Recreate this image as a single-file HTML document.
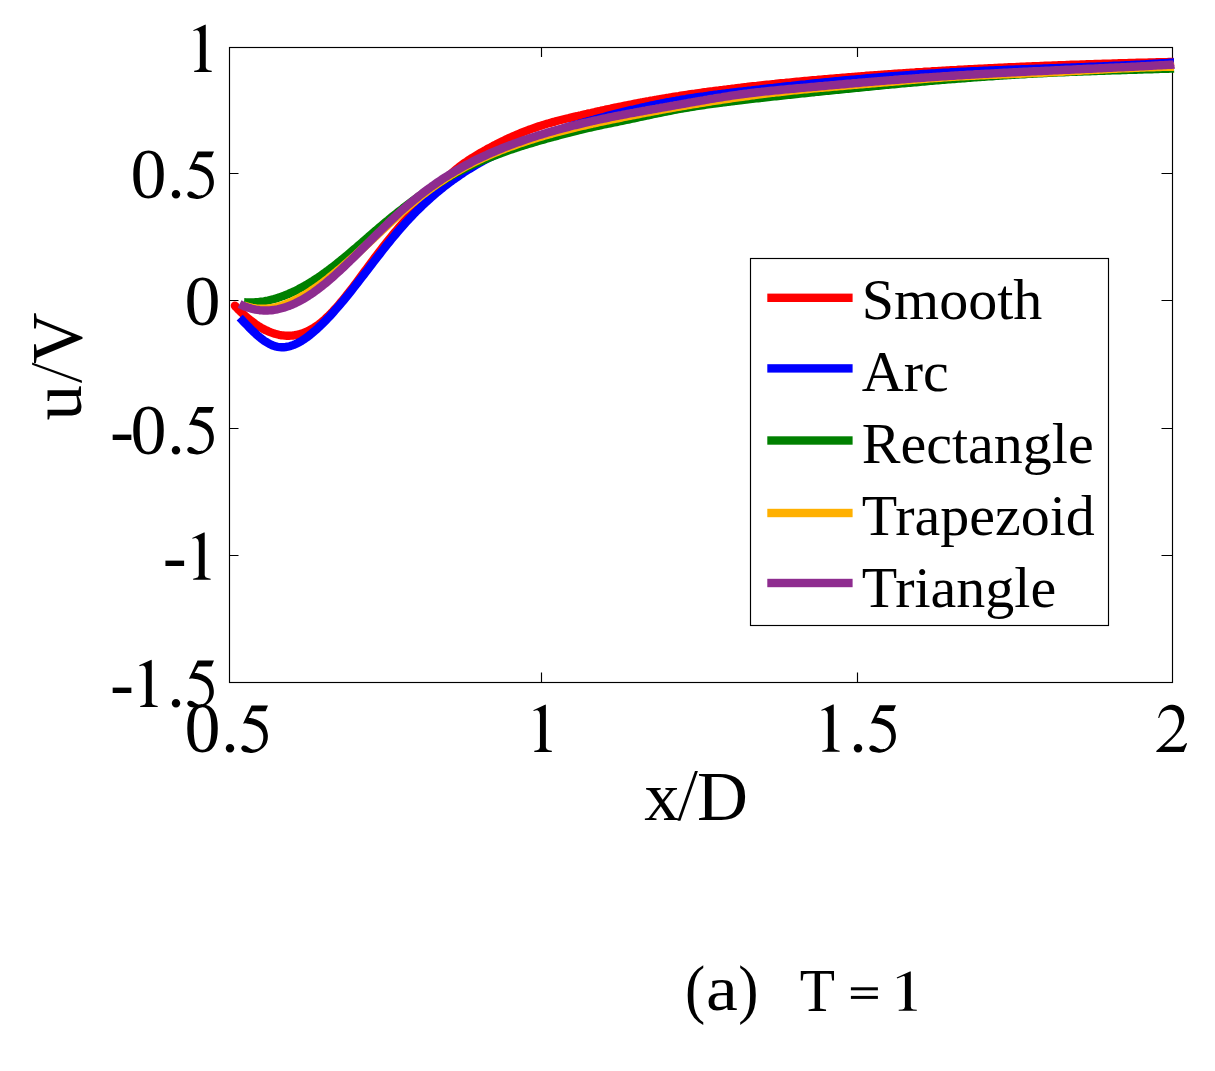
<!DOCTYPE html>
<html><head><meta charset="utf-8"><style>
html,body{margin:0;padding:0;background:#fff;}
body{width:1215px;height:1071px;overflow:hidden;font-family:"Liberation Serif",serif;}
svg{display:block;}
</style></head><body>
<svg width="1215" height="1071" viewBox="0 0 1215 1071">
<rect width="1215" height="1071" fill="#fff"/>
<g stroke="#000" stroke-width="1.15" fill="none">
<rect x="229.5" y="47.5" width="943" height="635"/>
<path d="M541.5 682.5 V672.5 M541.5 47.5 V57"/>
<path d="M857.5 682.5 V672.5 M857.5 47.5 V57"/>
<path d="M229.5 173.5 H238.5 M1172.5 173.5 H1161.5"/>
<path d="M229.5 300.5 H238.5 M1172.5 300.5 H1161.5"/>
<path d="M229.5 428.5 H238.5 M1172.5 428.5 H1161.5"/>
<path d="M229.5 555.5 H238.5 M1172.5 555.5 H1161.5"/>
</g>
<path d="M234.9 305.8 L236.9 307.9 L238.9 310.0 L240.9 311.9 L242.9 313.8 L244.9 315.7 L246.9 317.4 L248.9 319.1 L250.9 320.7 L252.9 322.2 L254.9 323.7 L256.9 325.1 L258.9 326.4 L260.9 327.6 L262.9 328.7 L264.9 329.8 L266.9 330.7 L268.9 331.6 L270.9 332.4 L272.9 333.1 L274.9 333.8 L276.9 334.3 L278.9 334.8 L280.9 335.2 L282.9 335.4 L284.9 335.6 L286.9 335.7 L288.9 335.7 L290.9 335.6 L292.9 335.5 L294.9 335.2 L296.9 334.8 L298.9 334.4 L300.9 333.8 L302.9 333.2 L304.9 332.4 L306.9 331.5 L308.9 330.6 L310.9 329.5 L312.9 328.4 L314.9 327.1 L316.9 325.8 L318.9 324.3 L320.9 322.7 L322.9 321.1 L324.9 319.3 L326.9 317.4 L328.9 315.5 L330.9 313.5 L332.9 311.4 L334.9 309.2 L336.9 307.0 L338.9 304.7 L340.9 302.3 L342.9 299.9 L344.9 297.5 L346.9 294.9 L348.9 292.4 L350.9 289.8 L352.9 287.2 L354.9 284.6 L356.9 281.9 L358.9 279.2 L360.9 276.5 L362.9 273.8 L364.9 271.1 L366.9 268.4 L368.9 265.6 L370.9 262.9 L372.9 260.3 L374.9 257.6 L376.9 254.9 L378.9 252.3 L380.9 249.7 L382.9 247.1 L384.9 244.6 L386.9 242.0 L388.9 239.5 L390.9 237.1 L392.9 234.6 L394.9 232.2 L396.9 229.9 L398.9 227.6 L400.9 225.3 L402.9 223.0 L404.9 220.8 L406.9 218.6 L408.9 216.4 L410.9 214.3 L412.9 212.2 L414.9 210.1 L416.9 208.0 L418.9 205.9 L420.9 203.8 L422.9 201.7 L424.9 199.6 L426.9 197.5 L428.9 195.4 L430.9 193.4 L432.9 191.3 L434.9 189.3 L436.9 187.3 L438.9 185.3 L440.9 183.3 L442.9 181.4 L444.9 179.5 L446.9 177.6 L448.9 175.8 L450.9 174.0 L452.9 172.2 L454.9 170.5 L456.9 168.8 L458.9 167.2 L460.9 165.7 L462.9 164.2 L464.9 162.7 L466.9 161.4 L468.9 160.0 L470.9 158.7 L472.9 157.5 L474.9 156.3 L476.9 155.1 L478.9 153.9 L480.9 152.7 L482.9 151.6 L484.9 150.5 L486.9 149.3 L488.9 148.2 L490.9 147.2 L492.9 146.1 L494.9 145.1 L496.9 144.0 L498.9 143.0 L500.9 142.0 L502.9 141.0 L504.9 140.1 L506.9 139.1 L508.9 138.2 L510.9 137.3 L512.9 136.4 L514.9 135.5 L516.9 134.6 L518.9 133.8 L520.9 133.0 L522.9 132.2 L524.9 131.4 L526.9 130.6 L528.9 129.8 L530.9 129.1 L532.9 128.4 L534.9 127.7 L536.9 127.0 L538.9 126.3 L540.9 125.7 L542.9 125.1 L544.9 124.4 L546.9 123.8 L548.9 123.3 L550.9 122.7 L552.9 122.1 L554.9 121.6 L556.9 121.0 L558.9 120.5 L560.9 120.0 L562.9 119.5 L564.9 119.0 L566.9 118.5 L568.9 118.1 L570.9 117.6 L572.9 117.1 L574.9 116.6 L576.9 116.2 L578.9 115.7 L580.9 115.3 L582.9 114.8 L584.9 114.3 L586.9 113.9 L588.9 113.4 L590.9 113.0 L592.9 112.5 L594.9 112.1 L596.9 111.6 L598.9 111.2 L600.9 110.7 L602.9 110.3 L604.9 109.9 L606.9 109.4 L608.9 109.0 L610.9 108.6 L612.9 108.1 L614.9 107.7 L616.9 107.3 L618.9 106.9 L620.9 106.5 L622.9 106.1 L624.9 105.7 L626.9 105.3 L628.9 104.9 L630.9 104.5 L632.9 104.1 L634.9 103.7 L636.9 103.3 L638.9 102.9 L640.9 102.5 L642.9 102.2 L644.9 101.8 L646.9 101.4 L648.9 101.1 L650.9 100.7 L652.9 100.4 L654.9 100.0 L656.9 99.7 L658.9 99.3 L660.9 99.0 L662.9 98.6 L664.9 98.3 L666.9 98.0 L668.9 97.7 L670.9 97.3 L672.9 97.0 L674.9 96.7 L676.9 96.4 L678.9 96.1 L680.9 95.7 L682.9 95.4 L684.9 95.1 L686.9 94.8 L688.9 94.5 L690.9 94.2 L692.9 93.9 L694.9 93.7 L696.9 93.4 L698.9 93.1 L700.9 92.8 L702.9 92.5 L704.9 92.2 L706.9 92.0 L708.9 91.7 L710.9 91.4 L712.9 91.2 L714.9 90.9 L716.9 90.6 L718.9 90.4 L720.9 90.1 L722.9 89.9 L724.9 89.6 L726.9 89.4 L728.9 89.1 L730.9 88.9 L732.9 88.6 L734.9 88.4 L736.9 88.1 L738.9 87.9 L740.9 87.7 L742.9 87.4 L744.9 87.2 L746.9 87.0 L748.9 86.7 L750.9 86.5 L752.9 86.3 L754.9 86.1 L756.9 85.9 L758.9 85.6 L760.9 85.4 L762.9 85.2 L764.9 85.0 L766.9 84.8 L768.9 84.6 L770.9 84.4 L772.9 84.2 L774.9 84.0 L776.9 83.7 L778.9 83.5 L780.9 83.3 L782.9 83.1 L784.9 83.0 L786.9 82.8 L788.9 82.6 L790.9 82.4 L792.9 82.2 L794.9 82.0 L796.9 81.8 L798.9 81.6 L800.9 81.4 L802.9 81.2 L804.9 81.0 L806.9 80.9 L808.9 80.7 L810.9 80.5 L812.9 80.3 L814.9 80.1 L816.9 80.0 L818.9 79.8 L820.9 79.6 L822.9 79.4 L824.9 79.2 L826.9 79.1 L828.9 78.9 L830.9 78.7 L832.9 78.6 L834.9 78.4 L836.9 78.2 L838.9 78.1 L840.9 77.9 L842.9 77.7 L844.9 77.6 L846.9 77.4 L848.9 77.2 L850.9 77.1 L852.9 76.9 L854.9 76.8 L856.9 76.6 L858.9 76.4 L860.9 76.3 L862.9 76.1 L864.9 76.0 L866.9 75.8 L868.9 75.7 L870.9 75.5 L872.9 75.4 L874.9 75.2 L876.9 75.1 L878.9 74.9 L880.9 74.8 L882.9 74.6 L884.9 74.5 L886.9 74.4 L888.9 74.2 L890.9 74.1 L892.9 73.9 L894.9 73.8 L896.9 73.7 L898.9 73.5 L900.9 73.4 L902.9 73.3 L904.9 73.1 L906.9 73.0 L908.9 72.9 L910.9 72.7 L912.9 72.6 L914.9 72.5 L916.9 72.3 L918.9 72.2 L920.9 72.1 L922.9 72.0 L924.9 71.8 L926.9 71.7 L928.9 71.6 L930.9 71.5 L932.9 71.3 L934.9 71.2 L936.9 71.1 L938.9 71.0 L940.9 70.9 L942.9 70.7 L944.9 70.6 L946.9 70.5 L948.9 70.4 L950.9 70.3 L952.9 70.2 L954.9 70.1 L956.9 70.0 L958.9 69.8 L960.9 69.7 L962.9 69.6 L964.9 69.5 L966.9 69.4 L968.9 69.3 L970.9 69.2 L972.9 69.1 L974.9 69.0 L976.9 68.9 L978.9 68.8 L980.9 68.7 L982.9 68.6 L984.9 68.5 L986.9 68.4 L988.9 68.3 L990.9 68.2 L992.9 68.1 L994.9 68.0 L996.9 67.9 L998.9 67.8 L1000.9 67.7 L1002.9 67.6 L1004.9 67.5 L1006.9 67.4 L1008.9 67.3 L1010.9 67.2 L1012.9 67.2 L1014.9 67.1 L1016.9 67.0 L1018.9 66.9 L1020.9 66.8 L1022.9 66.7 L1024.9 66.6 L1026.9 66.5 L1028.9 66.5 L1030.9 66.4 L1032.9 66.3 L1034.9 66.2 L1036.9 66.1 L1038.9 66.1 L1040.9 66.0 L1042.9 65.9 L1044.9 65.8 L1046.9 65.7 L1048.9 65.7 L1050.9 65.6 L1052.9 65.5 L1054.9 65.4 L1056.9 65.4 L1058.9 65.3 L1060.9 65.2 L1062.9 65.1 L1064.9 65.1 L1066.9 65.0 L1068.9 64.9 L1070.9 64.8 L1072.9 64.8 L1074.9 64.7 L1076.9 64.6 L1078.9 64.6 L1080.9 64.5 L1082.9 64.4 L1084.9 64.4 L1086.9 64.3 L1088.9 64.2 L1090.9 64.2 L1092.9 64.1 L1094.9 64.0 L1096.9 64.0 L1098.9 63.9 L1100.9 63.9 L1102.9 63.8 L1104.9 63.7 L1106.9 63.7 L1108.9 63.6 L1110.9 63.6 L1112.9 63.5 L1114.9 63.4 L1116.9 63.4 L1118.9 63.3 L1120.9 63.3 L1122.9 63.2 L1124.9 63.2 L1126.9 63.1 L1128.9 63.0 L1130.9 63.0 L1132.9 62.9 L1134.9 62.9 L1136.9 62.8 L1138.9 62.8 L1140.9 62.7 L1142.9 62.7 L1144.9 62.6 L1146.9 62.6 L1148.9 62.5 L1150.9 62.5 L1152.9 62.4 L1154.9 62.4 L1156.9 62.3 L1158.9 62.3 L1160.9 62.2 L1162.9 62.2 L1164.9 62.1 L1166.9 62.1 L1168.9 62.0 L1170.9 62.0 L1172.9 62.0 L1174.0 61.9" fill="none" stroke="#ff0000" stroke-width="8.4" stroke-linejoin="round" stroke-linecap="butt"/>
<circle cx="234.9" cy="305.8" r="4.2" fill="#ff0000"/>
<path d="M239.7 317.6 L241.7 319.7 L243.7 321.8 L245.7 323.9 L247.7 325.9 L249.7 328.0 L251.7 330.0 L253.7 331.9 L255.7 333.8 L257.7 335.6 L259.7 337.3 L261.7 338.9 L263.7 340.4 L265.7 341.7 L267.7 342.9 L269.7 344.0 L271.7 345.0 L273.7 345.8 L275.7 346.4 L277.7 346.8 L279.7 347.1 L281.7 347.3 L283.7 347.2 L285.7 347.0 L287.7 346.7 L289.7 346.2 L291.7 345.6 L293.7 344.9 L295.7 344.0 L297.7 343.0 L299.7 342.0 L301.7 340.8 L303.7 339.5 L305.7 338.1 L307.7 336.7 L309.7 335.1 L311.7 333.5 L313.7 331.8 L315.7 330.1 L317.7 328.3 L319.7 326.4 L321.7 324.5 L323.7 322.5 L325.7 320.5 L327.7 318.4 L329.7 316.3 L331.7 314.1 L333.7 311.9 L335.7 309.6 L337.7 307.3 L339.7 305.0 L341.7 302.6 L343.7 300.2 L345.7 297.8 L347.7 295.3 L349.7 292.8 L351.7 290.3 L353.7 287.7 L355.7 285.2 L357.7 282.6 L359.7 280.0 L361.7 277.5 L363.7 274.9 L365.7 272.3 L367.7 269.7 L369.7 267.0 L371.7 264.4 L373.7 261.8 L375.7 259.2 L377.7 256.7 L379.7 254.1 L381.7 251.5 L383.7 249.0 L385.7 246.4 L387.7 243.9 L389.7 241.5 L391.7 239.0 L393.7 236.6 L395.7 234.2 L397.7 231.8 L399.7 229.5 L401.7 227.2 L403.7 224.9 L405.7 222.7 L407.7 220.5 L409.7 218.4 L411.7 216.3 L413.7 214.2 L415.7 212.1 L417.7 210.1 L419.7 208.2 L421.7 206.2 L423.7 204.3 L425.7 202.5 L427.7 200.6 L429.7 198.8 L431.7 197.0 L433.7 195.3 L435.7 193.6 L437.7 191.9 L439.7 190.3 L441.7 188.6 L443.7 187.0 L445.7 185.5 L447.7 183.9 L449.7 182.4 L451.7 181.0 L453.7 179.5 L455.7 178.1 L457.7 176.7 L459.7 175.3 L461.7 174.0 L463.7 172.6 L465.7 171.3 L467.7 170.0 L469.7 168.8 L471.7 167.6 L473.7 166.4 L475.7 165.2 L477.7 164.0 L479.7 162.9 L481.7 161.7 L483.7 160.6 L485.7 159.5 L487.7 158.5 L489.7 157.4 L491.7 156.4 L493.7 155.4 L495.7 154.4 L497.7 153.4 L499.7 152.5 L501.7 151.6 L503.7 150.6 L505.7 149.7 L507.7 148.8 L509.7 148.0 L511.7 147.1 L513.7 146.2 L515.7 145.4 L517.7 144.6 L519.7 143.8 L521.7 143.0 L523.7 142.2 L525.7 141.4 L527.7 140.7 L529.7 139.9 L531.7 139.2 L533.7 138.4 L535.7 137.7 L537.7 137.0 L539.7 136.3 L541.7 135.6 L543.7 134.9 L545.7 134.2 L547.7 133.5 L549.7 132.9 L551.7 132.2 L553.7 131.5 L555.7 130.9 L557.7 130.3 L559.7 129.6 L561.7 129.0 L563.7 128.4 L565.7 127.7 L567.7 127.1 L569.7 126.5 L571.7 125.9 L573.7 125.3 L575.7 124.7 L577.7 124.2 L579.7 123.6 L581.7 123.0 L583.7 122.4 L585.7 121.9 L587.7 121.3 L589.7 120.8 L591.7 120.2 L593.7 119.7 L595.7 119.1 L597.7 118.6 L599.7 118.0 L601.7 117.5 L603.7 117.0 L605.7 116.4 L607.7 115.9 L609.7 115.4 L611.7 114.9 L613.7 114.4 L615.7 113.9 L617.7 113.4 L619.7 112.9 L621.7 112.4 L623.7 111.9 L625.7 111.4 L627.7 110.9 L629.7 110.4 L631.7 109.9 L633.7 109.5 L635.7 109.0 L637.7 108.5 L639.7 108.1 L641.7 107.6 L643.7 107.2 L645.7 106.7 L647.7 106.3 L649.7 105.9 L651.7 105.4 L653.7 105.0 L655.7 104.6 L657.7 104.2 L659.7 103.8 L661.7 103.4 L663.7 103.0 L665.7 102.6 L667.7 102.2 L669.7 101.9 L671.7 101.5 L673.7 101.1 L675.7 100.8 L677.7 100.4 L679.7 100.1 L681.7 99.7 L683.7 99.4 L685.7 99.1 L687.7 98.7 L689.7 98.4 L691.7 98.1 L693.7 97.8 L695.7 97.5 L697.7 97.2 L699.7 96.9 L701.7 96.6 L703.7 96.4 L705.7 96.1 L707.7 95.8 L709.7 95.5 L711.7 95.3 L713.7 95.0 L715.7 94.7 L717.7 94.5 L719.7 94.2 L721.7 94.0 L723.7 93.7 L725.7 93.5 L727.7 93.2 L729.7 93.0 L731.7 92.7 L733.7 92.5 L735.7 92.3 L737.7 92.0 L739.7 91.8 L741.7 91.6 L743.7 91.3 L745.7 91.1 L747.7 90.8 L749.7 90.6 L751.7 90.4 L753.7 90.1 L755.7 89.9 L757.7 89.7 L759.7 89.5 L761.7 89.2 L763.7 89.0 L765.7 88.8 L767.7 88.5 L769.7 88.3 L771.7 88.1 L773.7 87.9 L775.7 87.6 L777.7 87.4 L779.7 87.2 L781.7 87.0 L783.7 86.7 L785.7 86.5 L787.7 86.3 L789.7 86.1 L791.7 85.9 L793.7 85.6 L795.7 85.4 L797.7 85.2 L799.7 85.0 L801.7 84.8 L803.7 84.6 L805.7 84.4 L807.7 84.1 L809.7 83.9 L811.7 83.7 L813.7 83.5 L815.7 83.3 L817.7 83.1 L819.7 82.9 L821.7 82.7 L823.7 82.5 L825.7 82.3 L827.7 82.1 L829.7 81.9 L831.7 81.7 L833.7 81.5 L835.7 81.3 L837.7 81.1 L839.7 80.9 L841.7 80.7 L843.7 80.5 L845.7 80.3 L847.7 80.2 L849.7 80.0 L851.7 79.8 L853.7 79.6 L855.7 79.4 L857.7 79.2 L859.7 79.1 L861.7 78.9 L863.7 78.7 L865.7 78.5 L867.7 78.3 L869.7 78.2 L871.7 78.0 L873.7 77.8 L875.7 77.7 L877.7 77.5 L879.7 77.3 L881.7 77.2 L883.7 77.0 L885.7 76.8 L887.7 76.7 L889.7 76.5 L891.7 76.3 L893.7 76.2 L895.7 76.0 L897.7 75.9 L899.7 75.7 L901.7 75.6 L903.7 75.4 L905.7 75.3 L907.7 75.1 L909.7 75.0 L911.7 74.8 L913.7 74.7 L915.7 74.6 L917.7 74.4 L919.7 74.3 L921.7 74.2 L923.7 74.0 L925.7 73.9 L927.7 73.8 L929.7 73.6 L931.7 73.5 L933.7 73.4 L935.7 73.3 L937.7 73.1 L939.7 73.0 L941.7 72.9 L943.7 72.8 L945.7 72.7 L947.7 72.6 L949.7 72.5 L951.7 72.3 L953.7 72.2 L955.7 72.1 L957.7 72.0 L959.7 71.9 L961.7 71.8 L963.7 71.7 L965.7 71.6 L967.7 71.5 L969.7 71.4 L971.7 71.3 L973.7 71.2 L975.7 71.2 L977.7 71.1 L979.7 71.0 L981.7 70.9 L983.7 70.8 L985.7 70.7 L987.7 70.6 L989.7 70.5 L991.7 70.5 L993.7 70.4 L995.7 70.3 L997.7 70.2 L999.7 70.1 L1001.7 70.1 L1003.7 70.0 L1005.7 69.9 L1007.7 69.8 L1009.7 69.7 L1011.7 69.7 L1013.7 69.6 L1015.7 69.5 L1017.7 69.4 L1019.7 69.4 L1021.7 69.3 L1023.7 69.2 L1025.7 69.2 L1027.7 69.1 L1029.7 69.0 L1031.7 68.9 L1033.7 68.9 L1035.7 68.8 L1037.7 68.7 L1039.7 68.7 L1041.7 68.6 L1043.7 68.5 L1045.7 68.4 L1047.7 68.4 L1049.7 68.3 L1051.7 68.2 L1053.7 68.2 L1055.7 68.1 L1057.7 68.0 L1059.7 67.9 L1061.7 67.9 L1063.7 67.8 L1065.7 67.7 L1067.7 67.7 L1069.7 67.6 L1071.7 67.5 L1073.7 67.4 L1075.7 67.4 L1077.7 67.3 L1079.7 67.2 L1081.7 67.1 L1083.7 67.1 L1085.7 67.0 L1087.7 66.9 L1089.7 66.8 L1091.7 66.8 L1093.7 66.7 L1095.7 66.6 L1097.7 66.5 L1099.7 66.4 L1101.7 66.4 L1103.7 66.3 L1105.7 66.2 L1107.7 66.1 L1109.7 66.0 L1111.7 65.9 L1113.7 65.8 L1115.7 65.8 L1117.7 65.7 L1119.7 65.6 L1121.7 65.5 L1123.7 65.4 L1125.7 65.3 L1127.7 65.2 L1129.7 65.1 L1131.7 65.0 L1133.7 64.9 L1135.7 64.8 L1137.7 64.7 L1139.7 64.6 L1141.7 64.5 L1143.7 64.4 L1145.7 64.3 L1147.7 64.1 L1149.7 64.0 L1151.7 63.9 L1153.7 63.8 L1155.7 63.7 L1157.7 63.6 L1159.7 63.4 L1161.7 63.3 L1163.7 63.2 L1165.7 63.1 L1167.7 62.9 L1169.7 62.8 L1171.7 62.7 L1173.7 62.5 L1174.0 62.5" fill="none" stroke="#0000ff" stroke-width="8.4" stroke-linejoin="round" stroke-linecap="butt"/>
<path d="M244.1 302.3 L246.1 302.4 L248.1 302.5 L250.1 302.5 L252.1 302.5 L254.1 302.4 L256.1 302.2 L258.1 302.1 L260.1 301.8 L262.1 301.6 L264.1 301.3 L266.1 300.9 L268.1 300.5 L270.1 300.0 L272.1 299.5 L274.1 299.0 L276.1 298.4 L278.1 297.8 L280.1 297.1 L282.1 296.4 L284.1 295.7 L286.1 294.9 L288.1 294.1 L290.1 293.2 L292.1 292.3 L294.1 291.4 L296.1 290.4 L298.1 289.4 L300.1 288.3 L302.1 287.3 L304.1 286.1 L306.1 285.0 L308.1 283.8 L310.1 282.6 L312.1 281.4 L314.1 280.1 L316.1 278.8 L318.1 277.5 L320.1 276.1 L322.1 274.7 L324.1 273.3 L326.1 271.8 L328.1 270.4 L330.1 268.9 L332.1 267.3 L334.1 265.8 L336.1 264.2 L338.1 262.6 L340.1 261.0 L342.1 259.4 L344.1 257.7 L346.1 256.1 L348.1 254.4 L350.1 252.7 L352.1 251.0 L354.1 249.3 L356.1 247.6 L358.1 245.8 L360.1 244.1 L362.1 242.4 L364.1 240.6 L366.1 238.9 L368.1 237.2 L370.1 235.4 L372.1 233.7 L374.1 232.0 L376.1 230.3 L378.1 228.5 L380.1 226.9 L382.1 225.2 L384.1 223.5 L386.1 221.8 L388.1 220.2 L390.1 218.5 L392.1 216.9 L394.1 215.3 L396.1 213.7 L398.1 212.1 L400.1 210.5 L402.1 209.0 L404.1 207.4 L406.1 205.9 L408.1 204.4 L410.1 202.9 L412.1 201.4 L414.1 199.9 L416.1 198.5 L418.1 197.0 L420.1 195.6 L422.1 194.2 L424.1 192.8 L426.1 191.4 L428.1 190.1 L430.1 188.7 L432.1 187.4 L434.1 186.1 L436.1 184.8 L438.1 183.6 L440.1 182.3 L442.1 181.1 L444.1 179.9 L446.1 178.7 L448.1 177.5 L450.1 176.4 L452.1 175.2 L454.1 174.1 L456.1 173.1 L458.1 172.0 L460.1 170.9 L462.1 169.9 L464.1 168.9 L466.1 167.9 L468.1 166.9 L470.1 166.0 L472.1 165.1 L474.1 164.1 L476.1 163.2 L478.1 162.3 L480.1 161.5 L482.1 160.6 L484.1 159.8 L486.1 158.9 L488.1 158.1 L490.1 157.3 L492.1 156.5 L494.1 155.7 L496.1 155.0 L498.1 154.2 L500.1 153.5 L502.1 152.7 L504.1 152.0 L506.1 151.3 L508.1 150.6 L510.1 149.9 L512.1 149.2 L514.1 148.5 L516.1 147.9 L518.1 147.2 L520.1 146.6 L522.1 145.9 L524.1 145.3 L526.1 144.7 L528.1 144.1 L530.1 143.5 L532.1 142.9 L534.1 142.3 L536.1 141.7 L538.1 141.1 L540.1 140.5 L542.1 140.0 L544.1 139.4 L546.1 138.8 L548.1 138.3 L550.1 137.7 L552.1 137.2 L554.1 136.6 L556.1 136.1 L558.1 135.6 L560.1 135.0 L562.1 134.5 L564.1 134.0 L566.1 133.5 L568.1 133.0 L570.1 132.4 L572.1 131.9 L574.1 131.4 L576.1 130.9 L578.1 130.4 L580.1 130.0 L582.1 129.5 L584.1 129.0 L586.1 128.5 L588.1 128.0 L590.1 127.6 L592.1 127.1 L594.1 126.7 L596.1 126.2 L598.1 125.8 L600.1 125.4 L602.1 124.9 L604.1 124.5 L606.1 124.1 L608.1 123.7 L610.1 123.3 L612.1 122.9 L614.1 122.5 L616.1 122.1 L618.1 121.6 L620.1 121.2 L622.1 120.8 L624.1 120.4 L626.1 120.0 L628.1 119.6 L630.1 119.1 L632.1 118.7 L634.1 118.3 L636.1 117.9 L638.1 117.4 L640.1 117.0 L642.1 116.6 L644.1 116.2 L646.1 115.7 L648.1 115.3 L650.1 114.9 L652.1 114.4 L654.1 114.0 L656.1 113.6 L658.1 113.2 L660.1 112.8 L662.1 112.4 L664.1 112.0 L666.1 111.6 L668.1 111.2 L670.1 110.8 L672.1 110.4 L674.1 110.0 L676.1 109.6 L678.1 109.2 L680.1 108.9 L682.1 108.5 L684.1 108.2 L686.1 107.8 L688.1 107.5 L690.1 107.2 L692.1 106.8 L694.1 106.5 L696.1 106.2 L698.1 105.9 L700.1 105.6 L702.1 105.3 L704.1 105.0 L706.1 104.7 L708.1 104.4 L710.1 104.1 L712.1 103.8 L714.1 103.6 L716.1 103.3 L718.1 103.0 L720.1 102.8 L722.1 102.5 L724.1 102.2 L726.1 102.0 L728.1 101.7 L730.1 101.5 L732.1 101.2 L734.1 101.0 L736.1 100.7 L738.1 100.5 L740.1 100.3 L742.1 100.0 L744.1 99.8 L746.1 99.6 L748.1 99.3 L750.1 99.1 L752.1 98.9 L754.1 98.6 L756.1 98.4 L758.1 98.2 L760.1 98.0 L762.1 97.7 L764.1 97.5 L766.1 97.3 L768.1 97.1 L770.1 96.8 L772.1 96.6 L774.1 96.4 L776.1 96.2 L778.1 96.0 L780.1 95.8 L782.1 95.5 L784.1 95.3 L786.1 95.1 L788.1 94.9 L790.1 94.7 L792.1 94.5 L794.1 94.3 L796.1 94.1 L798.1 93.8 L800.1 93.6 L802.1 93.4 L804.1 93.2 L806.1 93.0 L808.1 92.8 L810.1 92.6 L812.1 92.4 L814.1 92.2 L816.1 91.9 L818.1 91.7 L820.1 91.5 L822.1 91.3 L824.1 91.1 L826.1 90.9 L828.1 90.7 L830.1 90.5 L832.1 90.3 L834.1 90.1 L836.1 89.9 L838.1 89.7 L840.1 89.5 L842.1 89.3 L844.1 89.1 L846.1 88.9 L848.1 88.7 L850.1 88.5 L852.1 88.3 L854.1 88.1 L856.1 87.9 L858.1 87.7 L860.1 87.5 L862.1 87.3 L864.1 87.1 L866.1 86.9 L868.1 86.7 L870.1 86.5 L872.1 86.3 L874.1 86.1 L876.1 85.9 L878.1 85.7 L880.1 85.5 L882.1 85.3 L884.1 85.1 L886.1 84.9 L888.1 84.7 L890.1 84.6 L892.1 84.4 L894.1 84.2 L896.1 84.0 L898.1 83.8 L900.1 83.6 L902.1 83.4 L904.1 83.3 L906.1 83.1 L908.1 82.9 L910.1 82.7 L912.1 82.5 L914.1 82.3 L916.1 82.2 L918.1 82.0 L920.1 81.8 L922.1 81.6 L924.1 81.5 L926.1 81.3 L928.1 81.1 L930.1 80.9 L932.1 80.8 L934.1 80.6 L936.1 80.4 L938.1 80.3 L940.1 80.1 L942.1 79.9 L944.1 79.8 L946.1 79.6 L948.1 79.4 L950.1 79.3 L952.1 79.1 L954.1 79.0 L956.1 78.8 L958.1 78.6 L960.1 78.5 L962.1 78.3 L964.1 78.2 L966.1 78.0 L968.1 77.9 L970.1 77.7 L972.1 77.6 L974.1 77.4 L976.1 77.3 L978.1 77.1 L980.1 77.0 L982.1 76.9 L984.1 76.7 L986.1 76.6 L988.1 76.4 L990.1 76.3 L992.1 76.2 L994.1 76.0 L996.1 75.9 L998.1 75.8 L1000.1 75.6 L1002.1 75.5 L1004.1 75.4 L1006.1 75.2 L1008.1 75.1 L1010.1 75.0 L1012.1 74.9 L1014.1 74.7 L1016.1 74.6 L1018.1 74.5 L1020.1 74.4 L1022.1 74.3 L1024.1 74.2 L1026.1 74.0 L1028.1 73.9 L1030.1 73.8 L1032.1 73.7 L1034.1 73.6 L1036.1 73.5 L1038.1 73.4 L1040.1 73.3 L1042.1 73.2 L1044.1 73.1 L1046.1 73.0 L1048.1 72.9 L1050.1 72.8 L1052.1 72.7 L1054.1 72.6 L1056.1 72.5 L1058.1 72.4 L1060.1 72.4 L1062.1 72.3 L1064.1 72.2 L1066.1 72.1 L1068.1 72.0 L1070.1 71.9 L1072.1 71.9 L1074.1 71.8 L1076.1 71.7 L1078.1 71.6 L1080.1 71.6 L1082.1 71.5 L1084.1 71.4 L1086.1 71.3 L1088.1 71.3 L1090.1 71.2 L1092.1 71.1 L1094.1 71.0 L1096.1 71.0 L1098.1 70.9 L1100.1 70.8 L1102.1 70.8 L1104.1 70.7 L1106.1 70.6 L1108.1 70.6 L1110.1 70.5 L1112.1 70.4 L1114.1 70.4 L1116.1 70.3 L1118.1 70.2 L1120.1 70.2 L1122.1 70.1 L1124.1 70.1 L1126.1 70.0 L1128.1 69.9 L1130.1 69.9 L1132.1 69.8 L1134.1 69.7 L1136.1 69.7 L1138.1 69.6 L1140.1 69.6 L1142.1 69.5 L1144.1 69.4 L1146.1 69.4 L1148.1 69.3 L1150.1 69.3 L1152.1 69.2 L1154.1 69.1 L1156.1 69.1 L1158.1 69.0 L1160.1 68.9 L1162.1 68.9 L1164.1 68.8 L1166.1 68.8 L1168.1 68.7 L1170.1 68.6 L1172.1 68.6 L1174.0 68.5" fill="none" stroke="#008000" stroke-width="8.4" stroke-linejoin="round" stroke-linecap="butt"/>
<path d="M244.1 305.6 L246.1 306.2 L248.1 306.8 L250.1 307.3 L252.1 307.8 L254.1 308.1 L256.1 308.4 L258.1 308.6 L260.1 308.7 L262.1 308.7 L264.1 308.7 L266.1 308.6 L268.1 308.4 L270.1 308.2 L272.1 307.9 L274.1 307.5 L276.1 307.1 L278.1 306.6 L280.1 306.0 L282.1 305.4 L284.1 304.7 L286.1 304.0 L288.1 303.2 L290.1 302.4 L292.1 301.5 L294.1 300.5 L296.1 299.5 L298.1 298.5 L300.1 297.4 L302.1 296.3 L304.1 295.2 L306.1 294.0 L308.1 292.7 L310.1 291.4 L312.1 290.1 L314.1 288.8 L316.1 287.4 L318.1 286.0 L320.1 284.5 L322.1 283.1 L324.1 281.6 L326.1 280.0 L328.1 278.5 L330.1 276.9 L332.1 275.3 L334.1 273.6 L336.1 272.0 L338.1 270.3 L340.1 268.6 L342.1 266.9 L344.1 265.2 L346.1 263.4 L348.1 261.7 L350.1 259.9 L352.1 258.1 L354.1 256.3 L356.1 254.5 L358.1 252.6 L360.1 250.8 L362.1 248.9 L364.1 247.1 L366.1 245.2 L368.1 243.4 L370.1 241.5 L372.1 239.6 L374.1 237.8 L376.1 235.9 L378.1 234.0 L380.1 232.2 L382.1 230.3 L384.1 228.4 L386.1 226.6 L388.1 224.7 L390.1 222.9 L392.1 221.0 L394.1 219.2 L396.1 217.4 L398.1 215.6 L400.1 213.8 L402.1 212.0 L404.1 210.2 L406.1 208.5 L408.1 206.8 L410.1 205.1 L412.1 203.4 L414.1 201.7 L416.1 200.0 L418.1 198.4 L420.1 196.8 L422.1 195.2 L424.1 193.7 L426.1 192.1 L428.1 190.6 L430.1 189.1 L432.1 187.7 L434.1 186.2 L436.1 184.8 L438.1 183.4 L440.1 182.1 L442.1 180.7 L444.1 179.4 L446.1 178.1 L448.1 176.8 L450.1 175.6 L452.1 174.3 L454.1 173.1 L456.1 171.9 L458.1 170.8 L460.1 169.6 L462.1 168.5 L464.1 167.4 L466.1 166.3 L468.1 165.3 L470.1 164.2 L472.1 163.2 L474.1 162.2 L476.1 161.2 L478.1 160.3 L480.1 159.3 L482.1 158.4 L484.1 157.5 L486.1 156.6 L488.1 155.7 L490.1 154.8 L492.1 154.0 L494.1 153.1 L496.1 152.3 L498.1 151.5 L500.1 150.7 L502.1 149.9 L504.1 149.2 L506.1 148.4 L508.1 147.7 L510.1 146.9 L512.1 146.2 L514.1 145.5 L516.1 144.8 L518.1 144.1 L520.1 143.4 L522.1 142.7 L524.1 142.0 L526.1 141.4 L528.1 140.7 L530.1 140.1 L532.1 139.5 L534.1 138.8 L536.1 138.2 L538.1 137.6 L540.1 137.0 L542.1 136.4 L544.1 135.8 L546.1 135.3 L548.1 134.7 L550.1 134.1 L552.1 133.6 L554.1 133.0 L556.1 132.5 L558.1 132.0 L560.1 131.4 L562.1 130.9 L564.1 130.4 L566.1 129.9 L568.1 129.4 L570.1 128.9 L572.1 128.4 L574.1 127.9 L576.1 127.4 L578.1 127.0 L580.1 126.5 L582.1 126.0 L584.1 125.6 L586.1 125.1 L588.1 124.7 L590.1 124.2 L592.1 123.8 L594.1 123.3 L596.1 122.9 L598.1 122.4 L600.1 122.0 L602.1 121.6 L604.1 121.2 L606.1 120.7 L608.1 120.3 L610.1 119.9 L612.1 119.5 L614.1 119.1 L616.1 118.7 L618.1 118.3 L620.1 117.9 L622.1 117.4 L624.1 117.0 L626.1 116.6 L628.1 116.2 L630.1 115.8 L632.1 115.4 L634.1 115.1 L636.1 114.7 L638.1 114.3 L640.1 113.9 L642.1 113.5 L644.1 113.1 L646.1 112.7 L648.1 112.3 L650.1 112.0 L652.1 111.6 L654.1 111.2 L656.1 110.8 L658.1 110.5 L660.1 110.1 L662.1 109.7 L664.1 109.4 L666.1 109.0 L668.1 108.6 L670.1 108.3 L672.1 107.9 L674.1 107.6 L676.1 107.2 L678.1 106.8 L680.1 106.5 L682.1 106.2 L684.1 105.8 L686.1 105.5 L688.1 105.1 L690.1 104.8 L692.1 104.4 L694.1 104.1 L696.1 103.8 L698.1 103.5 L700.1 103.1 L702.1 102.8 L704.1 102.5 L706.1 102.2 L708.1 101.8 L710.1 101.5 L712.1 101.2 L714.1 100.9 L716.1 100.6 L718.1 100.3 L720.1 100.0 L722.1 99.7 L724.1 99.4 L726.1 99.1 L728.1 98.8 L730.1 98.5 L732.1 98.2 L734.1 97.9 L736.1 97.6 L738.1 97.3 L740.1 97.1 L742.1 96.8 L744.1 96.5 L746.1 96.2 L748.1 96.0 L750.1 95.7 L752.1 95.4 L754.1 95.2 L756.1 94.9 L758.1 94.6 L760.1 94.4 L762.1 94.1 L764.1 93.9 L766.1 93.6 L768.1 93.4 L770.1 93.1 L772.1 92.9 L774.1 92.7 L776.1 92.4 L778.1 92.2 L780.1 92.0 L782.1 91.7 L784.1 91.5 L786.1 91.3 L788.1 91.1 L790.1 90.8 L792.1 90.6 L794.1 90.4 L796.1 90.2 L798.1 90.0 L800.1 89.8 L802.1 89.6 L804.1 89.4 L806.1 89.2 L808.1 89.0 L810.1 88.8 L812.1 88.6 L814.1 88.4 L816.1 88.2 L818.1 88.1 L820.1 87.9 L822.1 87.7 L824.1 87.5 L826.1 87.3 L828.1 87.2 L830.1 87.0 L832.1 86.8 L834.1 86.6 L836.1 86.5 L838.1 86.3 L840.1 86.1 L842.1 86.0 L844.1 85.8 L846.1 85.6 L848.1 85.4 L850.1 85.3 L852.1 85.1 L854.1 84.9 L856.1 84.8 L858.1 84.6 L860.1 84.4 L862.1 84.3 L864.1 84.1 L866.1 83.9 L868.1 83.8 L870.1 83.6 L872.1 83.4 L874.1 83.3 L876.1 83.1 L878.1 82.9 L880.1 82.7 L882.1 82.6 L884.1 82.4 L886.1 82.2 L888.1 82.0 L890.1 81.9 L892.1 81.7 L894.1 81.5 L896.1 81.3 L898.1 81.2 L900.1 81.0 L902.1 80.8 L904.1 80.6 L906.1 80.4 L908.1 80.3 L910.1 80.1 L912.1 79.9 L914.1 79.7 L916.1 79.6 L918.1 79.4 L920.1 79.2 L922.1 79.1 L924.1 78.9 L926.1 78.7 L928.1 78.6 L930.1 78.4 L932.1 78.3 L934.1 78.1 L936.1 78.0 L938.1 77.8 L940.1 77.7 L942.1 77.5 L944.1 77.4 L946.1 77.3 L948.1 77.1 L950.1 77.0 L952.1 76.9 L954.1 76.8 L956.1 76.6 L958.1 76.5 L960.1 76.4 L962.1 76.3 L964.1 76.2 L966.1 76.1 L968.1 76.0 L970.1 75.9 L972.1 75.8 L974.1 75.7 L976.1 75.6 L978.1 75.5 L980.1 75.4 L982.1 75.3 L984.1 75.2 L986.1 75.1 L988.1 75.0 L990.1 74.9 L992.1 74.9 L994.1 74.8 L996.1 74.7 L998.1 74.6 L1000.1 74.5 L1002.1 74.4 L1004.1 74.3 L1006.1 74.3 L1008.1 74.2 L1010.1 74.1 L1012.1 74.0 L1014.1 73.9 L1016.1 73.8 L1018.1 73.8 L1020.1 73.7 L1022.1 73.6 L1024.1 73.5 L1026.1 73.4 L1028.1 73.3 L1030.1 73.2 L1032.1 73.1 L1034.1 73.1 L1036.1 73.0 L1038.1 72.9 L1040.1 72.8 L1042.1 72.7 L1044.1 72.6 L1046.1 72.5 L1048.1 72.4 L1050.1 72.3 L1052.1 72.2 L1054.1 72.1 L1056.1 72.0 L1058.1 71.9 L1060.1 71.8 L1062.1 71.7 L1064.1 71.5 L1066.1 71.4 L1068.1 71.3 L1070.1 71.2 L1072.1 71.1 L1074.1 71.0 L1076.1 70.9 L1078.1 70.8 L1080.1 70.7 L1082.1 70.5 L1084.1 70.4 L1086.1 70.3 L1088.1 70.2 L1090.1 70.1 L1092.1 70.0 L1094.1 69.9 L1096.1 69.8 L1098.1 69.7 L1100.1 69.6 L1102.1 69.5 L1104.1 69.3 L1106.1 69.2 L1108.1 69.1 L1110.1 69.0 L1112.1 68.9 L1114.1 68.8 L1116.1 68.7 L1118.1 68.6 L1120.1 68.5 L1122.1 68.4 L1124.1 68.3 L1126.1 68.2 L1128.1 68.2 L1130.1 68.1 L1132.1 68.0 L1134.1 67.9 L1136.1 67.8 L1138.1 67.7 L1140.1 67.6 L1142.1 67.6 L1144.1 67.5 L1146.1 67.4 L1148.1 67.4 L1150.1 67.3 L1152.1 67.2 L1154.1 67.2 L1156.1 67.1 L1158.1 67.0 L1160.1 67.0 L1162.1 66.9 L1164.1 66.9 L1166.1 66.8 L1168.1 66.8 L1170.1 66.8 L1172.1 66.7 L1174.0 66.7" fill="none" stroke="#ffb000" stroke-width="8.4" stroke-linejoin="round" stroke-linecap="butt"/>
<path d="M239.6 304.1 L241.6 305.1 L243.6 306.0 L245.6 306.8 L247.6 307.5 L249.6 308.1 L251.6 308.7 L253.6 309.2 L255.6 309.6 L257.6 309.9 L259.6 310.2 L261.6 310.4 L263.6 310.5 L265.6 310.5 L267.6 310.5 L269.6 310.4 L271.6 310.2 L273.6 310.0 L275.6 309.6 L277.6 309.3 L279.6 308.8 L281.6 308.3 L283.6 307.8 L285.6 307.1 L287.6 306.4 L289.6 305.7 L291.6 304.9 L293.6 304.0 L295.6 303.1 L297.6 302.1 L299.6 301.0 L301.6 300.0 L303.6 298.8 L305.6 297.6 L307.6 296.4 L309.6 295.1 L311.6 293.7 L313.6 292.4 L315.6 290.9 L317.6 289.5 L319.6 287.9 L321.6 286.4 L323.6 284.8 L325.6 283.2 L327.6 281.5 L329.6 279.8 L331.6 278.1 L333.6 276.3 L335.6 274.5 L337.6 272.7 L339.6 270.9 L341.6 269.0 L343.6 267.1 L345.6 265.2 L347.6 263.3 L349.6 261.4 L351.6 259.4 L353.6 257.5 L355.6 255.5 L357.6 253.5 L359.6 251.5 L361.6 249.5 L363.6 247.5 L365.6 245.5 L367.6 243.5 L369.6 241.5 L371.6 239.5 L373.6 237.5 L375.6 235.5 L377.6 233.5 L379.6 231.6 L381.6 229.6 L383.6 227.6 L385.6 225.7 L387.6 223.8 L389.6 221.8 L391.6 219.9 L393.6 218.1 L395.6 216.2 L397.6 214.3 L399.6 212.5 L401.6 210.7 L403.6 208.9 L405.6 207.2 L407.6 205.4 L409.6 203.7 L411.6 202.0 L413.6 200.4 L415.6 198.7 L417.6 197.1 L419.6 195.5 L421.6 194.0 L423.6 192.4 L425.6 190.9 L427.6 189.4 L429.6 188.0 L431.6 186.5 L433.6 185.1 L435.6 183.7 L437.6 182.3 L439.6 181.0 L441.6 179.6 L443.6 178.3 L445.6 177.0 L447.6 175.8 L449.6 174.5 L451.6 173.3 L453.6 172.1 L455.6 170.9 L457.6 169.8 L459.6 168.6 L461.6 167.5 L463.6 166.4 L465.6 165.3 L467.6 164.2 L469.6 163.2 L471.6 162.1 L473.6 161.1 L475.6 160.1 L477.6 159.1 L479.6 158.2 L481.6 157.2 L483.6 156.3 L485.6 155.4 L487.6 154.4 L489.6 153.5 L491.6 152.7 L493.6 151.8 L495.6 151.0 L497.6 150.1 L499.6 149.3 L501.6 148.5 L503.6 147.7 L505.6 146.9 L507.6 146.1 L509.6 145.3 L511.6 144.6 L513.6 143.8 L515.6 143.1 L517.6 142.4 L519.6 141.7 L521.6 141.0 L523.6 140.3 L525.6 139.6 L527.6 138.9 L529.6 138.2 L531.6 137.6 L533.6 136.9 L535.6 136.3 L537.6 135.6 L539.6 135.0 L541.6 134.4 L543.6 133.8 L545.6 133.2 L547.6 132.6 L549.6 132.0 L551.6 131.4 L553.6 130.9 L555.6 130.3 L557.6 129.7 L559.6 129.2 L561.6 128.7 L563.6 128.1 L565.6 127.6 L567.6 127.1 L569.6 126.6 L571.6 126.0 L573.6 125.5 L575.6 125.1 L577.6 124.6 L579.6 124.1 L581.6 123.6 L583.6 123.1 L585.6 122.7 L587.6 122.2 L589.6 121.7 L591.6 121.3 L593.6 120.8 L595.6 120.4 L597.6 120.0 L599.6 119.5 L601.6 119.1 L603.6 118.7 L605.6 118.3 L607.6 117.9 L609.6 117.4 L611.6 117.0 L613.6 116.6 L615.6 116.2 L617.6 115.8 L619.6 115.4 L621.6 115.1 L623.6 114.7 L625.6 114.3 L627.6 113.9 L629.6 113.5 L631.6 113.1 L633.6 112.8 L635.6 112.4 L637.6 112.0 L639.6 111.7 L641.6 111.3 L643.6 110.9 L645.6 110.6 L647.6 110.2 L649.6 109.8 L651.6 109.5 L653.6 109.1 L655.6 108.8 L657.6 108.4 L659.6 108.1 L661.6 107.7 L663.6 107.4 L665.6 107.0 L667.6 106.7 L669.6 106.3 L671.6 105.9 L673.6 105.6 L675.6 105.2 L677.6 104.9 L679.6 104.5 L681.6 104.2 L683.6 103.8 L685.6 103.5 L687.6 103.1 L689.6 102.7 L691.6 102.4 L693.6 102.0 L695.6 101.7 L697.6 101.3 L699.6 101.0 L701.6 100.6 L703.6 100.3 L705.6 99.9 L707.6 99.6 L709.6 99.2 L711.6 98.9 L713.6 98.6 L715.6 98.2 L717.6 97.9 L719.6 97.6 L721.6 97.3 L723.6 96.9 L725.6 96.6 L727.6 96.3 L729.6 96.0 L731.6 95.7 L733.6 95.4 L735.6 95.1 L737.6 94.8 L739.6 94.5 L741.6 94.3 L743.6 94.0 L745.6 93.7 L747.6 93.5 L749.6 93.2 L751.6 93.0 L753.6 92.8 L755.6 92.5 L757.6 92.3 L759.6 92.1 L761.6 91.8 L763.6 91.6 L765.6 91.4 L767.6 91.2 L769.6 91.0 L771.6 90.8 L773.6 90.6 L775.6 90.4 L777.6 90.2 L779.6 90.0 L781.6 89.8 L783.6 89.6 L785.6 89.4 L787.6 89.2 L789.6 89.0 L791.6 88.9 L793.6 88.7 L795.6 88.5 L797.6 88.3 L799.6 88.1 L801.6 87.9 L803.6 87.8 L805.6 87.6 L807.6 87.4 L809.6 87.2 L811.6 87.0 L813.6 86.9 L815.6 86.7 L817.6 86.5 L819.6 86.3 L821.6 86.1 L823.6 86.0 L825.6 85.8 L827.6 85.6 L829.6 85.4 L831.6 85.2 L833.6 85.1 L835.6 84.9 L837.6 84.7 L839.6 84.5 L841.6 84.4 L843.6 84.2 L845.6 84.0 L847.6 83.8 L849.6 83.6 L851.6 83.5 L853.6 83.3 L855.6 83.1 L857.6 83.0 L859.6 82.8 L861.6 82.6 L863.6 82.4 L865.6 82.3 L867.6 82.1 L869.6 81.9 L871.6 81.8 L873.6 81.6 L875.6 81.4 L877.6 81.3 L879.6 81.1 L881.6 80.9 L883.6 80.8 L885.6 80.6 L887.6 80.4 L889.6 80.3 L891.6 80.1 L893.6 80.0 L895.6 79.8 L897.6 79.7 L899.6 79.5 L901.6 79.3 L903.6 79.2 L905.6 79.0 L907.6 78.9 L909.6 78.7 L911.6 78.6 L913.6 78.4 L915.6 78.3 L917.6 78.1 L919.6 78.0 L921.6 77.8 L923.6 77.7 L925.6 77.5 L927.6 77.4 L929.6 77.3 L931.6 77.1 L933.6 77.0 L935.6 76.9 L937.6 76.7 L939.6 76.6 L941.6 76.4 L943.6 76.3 L945.6 76.2 L947.6 76.1 L949.6 75.9 L951.6 75.8 L953.6 75.7 L955.6 75.5 L957.6 75.4 L959.6 75.3 L961.6 75.2 L963.6 75.1 L965.6 74.9 L967.6 74.8 L969.6 74.7 L971.6 74.6 L973.6 74.5 L975.6 74.3 L977.6 74.2 L979.6 74.1 L981.6 74.0 L983.6 73.9 L985.6 73.8 L987.6 73.7 L989.6 73.6 L991.6 73.5 L993.6 73.4 L995.6 73.2 L997.6 73.1 L999.6 73.0 L1001.6 72.9 L1003.6 72.8 L1005.6 72.7 L1007.6 72.6 L1009.6 72.5 L1011.6 72.4 L1013.6 72.3 L1015.6 72.2 L1017.6 72.1 L1019.6 72.0 L1021.6 71.9 L1023.6 71.8 L1025.6 71.7 L1027.6 71.6 L1029.6 71.5 L1031.6 71.4 L1033.6 71.3 L1035.6 71.2 L1037.6 71.1 L1039.6 71.1 L1041.6 71.0 L1043.6 70.9 L1045.6 70.8 L1047.6 70.7 L1049.6 70.6 L1051.6 70.5 L1053.6 70.4 L1055.6 70.3 L1057.6 70.2 L1059.6 70.1 L1061.6 70.0 L1063.6 69.9 L1065.6 69.8 L1067.6 69.8 L1069.6 69.7 L1071.6 69.6 L1073.6 69.5 L1075.6 69.4 L1077.6 69.3 L1079.6 69.2 L1081.6 69.1 L1083.6 69.0 L1085.6 68.9 L1087.6 68.8 L1089.6 68.8 L1091.6 68.7 L1093.6 68.6 L1095.6 68.5 L1097.6 68.4 L1099.6 68.3 L1101.6 68.2 L1103.6 68.1 L1105.6 68.0 L1107.6 67.9 L1109.6 67.8 L1111.6 67.7 L1113.6 67.6 L1115.6 67.5 L1117.6 67.4 L1119.6 67.4 L1121.6 67.3 L1123.6 67.2 L1125.6 67.1 L1127.6 67.0 L1129.6 66.9 L1131.6 66.8 L1133.6 66.7 L1135.6 66.6 L1137.6 66.5 L1139.6 66.4 L1141.6 66.3 L1143.6 66.2 L1145.6 66.1 L1147.6 66.0 L1149.6 65.9 L1151.6 65.8 L1153.6 65.6 L1155.6 65.5 L1157.6 65.4 L1159.6 65.3 L1161.6 65.2 L1163.6 65.1 L1165.6 65.0 L1167.6 64.9 L1169.6 64.8 L1171.6 64.7 L1173.6 64.6 L1174.0 64.5" fill="none" stroke="#8e2c8f" stroke-width="8.4" stroke-linejoin="round" stroke-linecap="butt"/>
<g font-family="Liberation Serif" fill="#000">
<path transform="translate(202.8 72)" d="M2.7 -47.45 L2.96 -46.65 L2.96 -4.65 Q3.2 -2.25 5.8 -1.75 L8.9 -1.15 L8.9 0 L-8.6 0 L-8.6 -1.15 L-5.8 -1.75 Q-3.2 -2.25 -2.95 -4.65 L-2.95 -37.35 Q-3.1 -40.65 -5.5 -41.65 Q-7.2 -41.85 -9.1 -40.95 L-9.6 -41.75 Z"/>
<text x="130.6" y="198" font-size="72">0</text>
<text x="166.9" y="198" font-size="72">.</text>
<path transform="translate(187.3 198)" d="M10.3 -46.5 L26.7 -46.5 L24.3 -40.7 L11.1 -40.7 L7.3 -34.1 C8.05 -34.02 9.95 -34.15 11.80 -33.60 C13.65 -33.05 16.38 -32.10 18.40 -30.80 C20.42 -29.50 22.55 -28.07 23.90 -25.80 C25.25 -23.53 26.23 -19.90 26.50 -17.20 C26.77 -14.50 26.43 -11.87 25.50 -9.60 C24.57 -7.33 22.93 -5.28 20.90 -3.60 C18.87 -1.92 15.48 -0.22 13.30 0.50 C11.12 1.22 9.65 0.88 7.80 0.70 C5.95 0.52 3.50 0.12 2.20 -0.60 C0.90 -1.32 0.17 -2.72 0.00 -3.60 C-0.17 -4.48 0.65 -5.43 1.20 -5.90 C1.75 -6.37 2.53 -6.45 3.30 -6.40 C4.07 -6.35 4.80 -6.12 5.80 -5.60 C6.80 -5.08 8.30 -3.80 9.30 -3.30 C10.30 -2.80 10.62 -2.60 11.80 -2.60 C12.98 -2.60 15.05 -2.63 16.40 -3.30 C17.75 -3.97 18.98 -5.03 19.90 -6.60 C20.82 -8.17 21.65 -10.60 21.90 -12.70 C22.15 -14.80 22.07 -17.27 21.40 -19.20 C20.73 -21.13 19.50 -22.95 17.90 -24.30 C16.30 -25.65 13.90 -26.58 11.80 -27.30 C9.70 -28.02 6.98 -28.43 5.30 -28.60 C3.62 -28.77 2.30 -28.35 1.70 -28.30 Z"/>
<text x="184.5" y="325" font-size="72">0</text>
<text x="109.9" y="453.5" font-size="72">-</text>
<text x="130.6" y="453.5" font-size="72">0</text>
<text x="166.9" y="453.5" font-size="72">.</text>
<path transform="translate(187.25 453.5)" d="M10.3 -46.5 L26.7 -46.5 L24.3 -40.7 L11.1 -40.7 L7.3 -34.1 C8.05 -34.02 9.95 -34.15 11.80 -33.60 C13.65 -33.05 16.38 -32.10 18.40 -30.80 C20.42 -29.50 22.55 -28.07 23.90 -25.80 C25.25 -23.53 26.23 -19.90 26.50 -17.20 C26.77 -14.50 26.43 -11.87 25.50 -9.60 C24.57 -7.33 22.93 -5.28 20.90 -3.60 C18.87 -1.92 15.48 -0.22 13.30 0.50 C11.12 1.22 9.65 0.88 7.80 0.70 C5.95 0.52 3.50 0.12 2.20 -0.60 C0.90 -1.32 0.17 -2.72 0.00 -3.60 C-0.17 -4.48 0.65 -5.43 1.20 -5.90 C1.75 -6.37 2.53 -6.45 3.30 -6.40 C4.07 -6.35 4.80 -6.12 5.80 -5.60 C6.80 -5.08 8.30 -3.80 9.30 -3.30 C10.30 -2.80 10.62 -2.60 11.80 -2.60 C12.98 -2.60 15.05 -2.63 16.40 -3.30 C17.75 -3.97 18.98 -5.03 19.90 -6.60 C20.82 -8.17 21.65 -10.60 21.90 -12.70 C22.15 -14.80 22.07 -17.27 21.40 -19.20 C20.73 -21.13 19.50 -22.95 17.90 -24.30 C16.30 -25.65 13.90 -26.58 11.80 -27.30 C9.70 -28.02 6.98 -28.43 5.30 -28.60 C3.62 -28.77 2.30 -28.35 1.70 -28.30 Z"/>
<text x="162.8" y="579.8" font-size="72">-</text>
<path transform="translate(201.75 579.8)" d="M2.7 -47.45 L2.96 -46.65 L2.96 -4.65 Q3.2 -2.25 5.8 -1.75 L8.9 -1.15 L8.9 0 L-8.6 0 L-8.6 -1.15 L-5.8 -1.75 Q-3.2 -2.25 -2.95 -4.65 L-2.95 -37.35 Q-3.1 -40.65 -5.5 -41.65 Q-7.2 -41.85 -9.1 -40.95 L-9.6 -41.75 Z"/>
<text x="109.9" y="707.1" font-size="72">-</text>
<path transform="translate(148.8 707.1)" d="M2.7 -47.45 L2.96 -46.65 L2.96 -4.65 Q3.2 -2.25 5.8 -1.75 L8.9 -1.15 L8.9 0 L-8.6 0 L-8.6 -1.15 L-5.8 -1.75 Q-3.2 -2.25 -2.95 -4.65 L-2.95 -37.35 Q-3.1 -40.65 -5.5 -41.65 Q-7.2 -41.85 -9.1 -40.95 L-9.6 -41.75 Z"/>
<text x="166.9" y="707.1" font-size="72">.</text>
<path transform="translate(187.25 707.1)" d="M10.3 -46.5 L26.7 -46.5 L24.3 -40.7 L11.1 -40.7 L7.3 -34.1 C8.05 -34.02 9.95 -34.15 11.80 -33.60 C13.65 -33.05 16.38 -32.10 18.40 -30.80 C20.42 -29.50 22.55 -28.07 23.90 -25.80 C25.25 -23.53 26.23 -19.90 26.50 -17.20 C26.77 -14.50 26.43 -11.87 25.50 -9.60 C24.57 -7.33 22.93 -5.28 20.90 -3.60 C18.87 -1.92 15.48 -0.22 13.30 0.50 C11.12 1.22 9.65 0.88 7.80 0.70 C5.95 0.52 3.50 0.12 2.20 -0.60 C0.90 -1.32 0.17 -2.72 0.00 -3.60 C-0.17 -4.48 0.65 -5.43 1.20 -5.90 C1.75 -6.37 2.53 -6.45 3.30 -6.40 C4.07 -6.35 4.80 -6.12 5.80 -5.60 C6.80 -5.08 8.30 -3.80 9.30 -3.30 C10.30 -2.80 10.62 -2.60 11.80 -2.60 C12.98 -2.60 15.05 -2.63 16.40 -3.30 C17.75 -3.97 18.98 -5.03 19.90 -6.60 C20.82 -8.17 21.65 -10.60 21.90 -12.70 C22.15 -14.80 22.07 -17.27 21.40 -19.20 C20.73 -21.13 19.50 -22.95 17.90 -24.30 C16.30 -25.65 13.90 -26.58 11.80 -27.30 C9.70 -28.02 6.98 -28.43 5.30 -28.60 C3.62 -28.77 2.30 -28.35 1.70 -28.30 Z"/>
<text x="184.6" y="752" font-size="72">0</text>
<text x="220.9" y="752" font-size="72">.</text>
<path transform="translate(241.3 752)" d="M10.3 -46.5 L26.7 -46.5 L24.3 -40.7 L11.1 -40.7 L7.3 -34.1 C8.05 -34.02 9.95 -34.15 11.80 -33.60 C13.65 -33.05 16.38 -32.10 18.40 -30.80 C20.42 -29.50 22.55 -28.07 23.90 -25.80 C25.25 -23.53 26.23 -19.90 26.50 -17.20 C26.77 -14.50 26.43 -11.87 25.50 -9.60 C24.57 -7.33 22.93 -5.28 20.90 -3.60 C18.87 -1.92 15.48 -0.22 13.30 0.50 C11.12 1.22 9.65 0.88 7.80 0.70 C5.95 0.52 3.50 0.12 2.20 -0.60 C0.90 -1.32 0.17 -2.72 0.00 -3.60 C-0.17 -4.48 0.65 -5.43 1.20 -5.90 C1.75 -6.37 2.53 -6.45 3.30 -6.40 C4.07 -6.35 4.80 -6.12 5.80 -5.60 C6.80 -5.08 8.30 -3.80 9.30 -3.30 C10.30 -2.80 10.62 -2.60 11.80 -2.60 C12.98 -2.60 15.05 -2.63 16.40 -3.30 C17.75 -3.97 18.98 -5.03 19.90 -6.60 C20.82 -8.17 21.65 -10.60 21.90 -12.70 C22.15 -14.80 22.07 -17.27 21.40 -19.20 C20.73 -21.13 19.50 -22.95 17.90 -24.30 C16.30 -25.65 13.90 -26.58 11.80 -27.30 C9.70 -28.02 6.98 -28.43 5.30 -28.60 C3.62 -28.77 2.30 -28.35 1.70 -28.30 Z"/>
<path transform="translate(542.9 752)" d="M2.7 -47.45 L2.96 -46.65 L2.96 -4.65 Q3.2 -2.25 5.8 -1.75 L8.9 -1.15 L8.9 0 L-8.6 0 L-8.6 -1.15 L-5.8 -1.75 Q-3.2 -2.25 -2.95 -4.65 L-2.95 -37.35 Q-3.1 -40.65 -5.5 -41.65 Q-7.2 -41.85 -9.1 -40.95 L-9.6 -41.75 Z"/>
<path transform="translate(830.8 751.8)" d="M2.7 -47.45 L2.96 -46.65 L2.96 -4.65 Q3.2 -2.25 5.8 -1.75 L8.9 -1.15 L8.9 0 L-8.6 0 L-8.6 -1.15 L-5.8 -1.75 Q-3.2 -2.25 -2.95 -4.65 L-2.95 -37.35 Q-3.1 -40.65 -5.5 -41.65 Q-7.2 -41.85 -9.1 -40.95 L-9.6 -41.75 Z"/>
<text x="848.95" y="751.8" font-size="72">.</text>
<path transform="translate(869.3 751.8)" d="M10.3 -46.5 L26.7 -46.5 L24.3 -40.7 L11.1 -40.7 L7.3 -34.1 C8.05 -34.02 9.95 -34.15 11.80 -33.60 C13.65 -33.05 16.38 -32.10 18.40 -30.80 C20.42 -29.50 22.55 -28.07 23.90 -25.80 C25.25 -23.53 26.23 -19.90 26.50 -17.20 C26.77 -14.50 26.43 -11.87 25.50 -9.60 C24.57 -7.33 22.93 -5.28 20.90 -3.60 C18.87 -1.92 15.48 -0.22 13.30 0.50 C11.12 1.22 9.65 0.88 7.80 0.70 C5.95 0.52 3.50 0.12 2.20 -0.60 C0.90 -1.32 0.17 -2.72 0.00 -3.60 C-0.17 -4.48 0.65 -5.43 1.20 -5.90 C1.75 -6.37 2.53 -6.45 3.30 -6.40 C4.07 -6.35 4.80 -6.12 5.80 -5.60 C6.80 -5.08 8.30 -3.80 9.30 -3.30 C10.30 -2.80 10.62 -2.60 11.80 -2.60 C12.98 -2.60 15.05 -2.63 16.40 -3.30 C17.75 -3.97 18.98 -5.03 19.90 -6.60 C20.82 -8.17 21.65 -10.60 21.90 -12.70 C22.15 -14.80 22.07 -17.27 21.40 -19.20 C20.73 -21.13 19.50 -22.95 17.90 -24.30 C16.30 -25.65 13.90 -26.58 11.80 -27.30 C9.70 -28.02 6.98 -28.43 5.30 -28.60 C3.62 -28.77 2.30 -28.35 1.70 -28.30 Z"/>
<path transform="translate(1156.0 751.9)" d="M2.2 -34.0 C2.43 -34.77 2.93 -37.13 3.60 -38.60 C4.27 -40.07 5.08 -41.63 6.20 -42.80 C7.32 -43.97 8.83 -44.88 10.30 -45.60 C11.77 -46.32 13.12 -47.05 15.00 -47.10 C16.88 -47.15 19.72 -46.82 21.60 -45.90 C23.48 -44.98 25.20 -43.42 26.30 -41.60 C27.40 -39.78 28.03 -37.20 28.20 -35.00 C28.37 -32.80 28.08 -30.77 27.30 -28.40 C26.52 -26.03 25.40 -23.48 23.50 -20.80 C21.60 -18.12 18.42 -14.90 15.90 -12.30 C13.38 -9.70 9.65 -6.38 8.40 -5.20 L24.5 -5.2 Q27.5 -5.5 30.1 -9.0 L31.1 -8.5 L27.8 0 L0.3 0 L0.3 -0.8 C1.97 -2.40 7.22 -7.38 10.30 -10.40 C13.38 -13.42 16.75 -16.07 18.80 -18.90 C20.85 -21.73 21.97 -24.88 22.60 -27.40 C23.23 -29.92 23.08 -31.87 22.60 -34.00 C22.12 -36.13 21.28 -38.85 19.70 -40.20 C18.12 -41.55 15.30 -42.18 13.10 -42.10 C10.90 -42.02 8.15 -41.05 6.50 -39.70 C4.85 -38.35 3.75 -34.95 3.20 -34.00 Z"/>
<text x="644.2" y="819.8" font-size="70.5">x</text>
<path d="M677.5 820.8 L680.4 820.8 L697.9 770.9 L695.0 770.9 Z"/>
<text x="697.0" y="819.8" font-size="70.5">D</text>
<g transform="translate(81.3 420.5) rotate(-90)"><text x="0" y="0" font-size="71">u</text><path d="M37.6 0.6 L40.0 0.6 L58.1 -49.2 L55.7 -49.2 Z"/><text x="56.7" y="0" font-size="71">V</text></g>
</g>
<rect x="750.5" y="258.5" width="358" height="367" fill="#fff" stroke="#000" stroke-width="1.15"/>
<g font-family="Liberation Serif" fill="#000" font-size="58">
<rect x="767.3" y="293.6" width="85.3" height="8.4" fill="#ff0000"/>
<text x="861.8" y="319.1">Smooth</text>
<rect x="767.3" y="364.2" width="85.3" height="8.4" fill="#0000ff"/>
<text x="861.8" y="390.6">Arc</text>
<rect x="767.3" y="436.3" width="85.3" height="8.4" fill="#008000"/>
<text x="861.8" y="462.9">Rectangle</text>
<rect x="767.3" y="508.8" width="85.3" height="8.4" fill="#ffb000"/>
<text x="861.8" y="535.1">Trapezoid</text>
<rect x="767.3" y="578.8" width="85.3" height="8.4" fill="#8e2c8f"/>
<text x="861.8" y="606.7">Triangle</text>
</g>
<g font-family="Liberation Serif" fill="#000">
<text transform="translate(684.95 1010.7) scale(0.92 1)" x="0" y="0" font-size="66">(</text>
<text transform="translate(705.95 1010.3) scale(1.12 1)" x="0" y="0" font-size="64">a</text>
<text transform="translate(738.2 1010.7) scale(0.92 1)" x="0" y="0" font-size="66">)</text>
<text transform="translate(799.84 1011.3) scale(0.935 1)" x="0" y="0" font-size="61.7">T</text>
<rect x="850.9" y="987.3" width="27" height="3"/><rect x="850.9" y="995.9" width="27" height="3"/>
<path transform="translate(907.85 1010.8)" d="M2.65 -39.5 L2.95 -38.8 L2.95 -4 Q3.1 -1.6 5.5 -1.3 L8.95 -1.0 L8.95 0 L-9.15 0 L-9.15 -1.0 L-5.6 -1.3 Q-3.1 -1.6 -2.95 -4 L-2.95 -33.6 Q-3.3 -35.2 -5 -34.6 L-10.6 -32.2 L-11.15 -33.2 Z"/>
</g>
</svg>
</body></html>
